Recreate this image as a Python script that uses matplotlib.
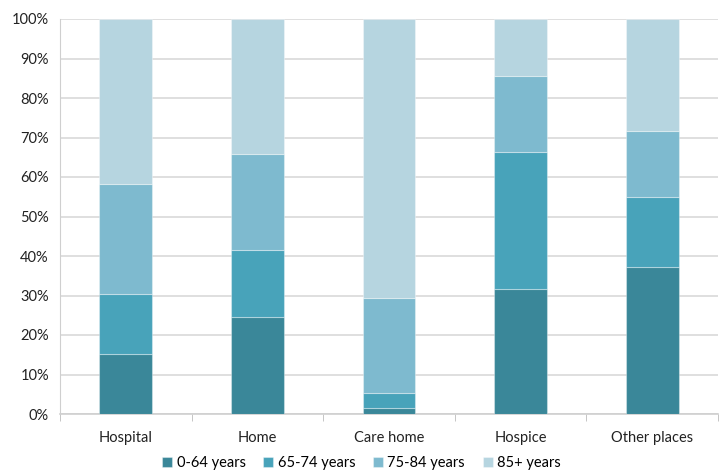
import numpy as np
import matplotlib
matplotlib.use("Agg")
import matplotlib.pyplot as plt
from matplotlib.ticker import PercentFormatter, FixedLocator

plt.rcParams["font.family"] = ["Lato", "DejaVu Sans"]

places = ["Hospital", "Home", "Care home", "Hospice", "Other places"]
age_groups = ["0-64 years", "65-74 years", "75-84 years", "85+ years"]
age_0_64 = [15.2, 24.6, 1.5, 31.6, 37.2]
age_65_74 = [15.2, 16.9, 3.8, 34.7, 17.7]
age_75_84 = [27.8, 24.3, 24.1, 19.3, 16.7]
age_85_plus = [41.8, 34.2, 70.6, 14.4, 28.4]

COLS = ["#3A8799", "#48A3BA", "#7EBACF", "#B6D5E0"]

fig = plt.figure(figsize=(7.23, 4.70), dpi=100)
ax = fig.add_axes([60 / 723, 56 / 470, 658 / 723, 395 / 470])

x = np.arange(len(places))
bottom = np.zeros(len(places))
for vals, col, lab in zip([age_0_64, age_65_74, age_75_84, age_85_plus], COLS, age_groups):
    ax.bar(x, vals, width=0.4, bottom=bottom, color=col, label=lab,
           edgecolor=(1, 1, 1, 0.35), linewidth=0.8, zorder=3)
    bottom += np.array(vals)

ax.set_xlim(-0.5, len(places) - 0.5)
ax.set_ylim(0, 100)
ax.set_yticks(np.arange(0, 101, 10))
ax.yaxis.set_major_formatter(PercentFormatter(decimals=0))
ax.set_xticks(x)
ax.set_xticklabels(places)
ax.xaxis.set_minor_locator(FixedLocator(np.arange(-0.5, len(places), 1.0)))
ax.tick_params(axis="x", which="major", length=0, pad=12, labelsize=10.5, colors="#222222")
ax.tick_params(axis="x", which="minor", length=5, color="#BBBBBB", direction="out")
ax.tick_params(axis="y", length=0, pad=8, labelsize=10.5, colors="#222222")

ax.grid(axis="y", color="#D9D9D9", lw=1.2, zorder=0)
for s in ["top", "right"]:
    ax.spines[s].set_visible(False)
ax.spines["left"].set_color("#CFCFCF")
ax.spines["bottom"].set_color("#CFCFCF")
ax.spines["bottom"].set_linewidth(1.2)

fig.legend(loc="lower center", bbox_to_anchor=(0.5, -0.028), ncol=4, frameon=False,
           fontsize=10.5, handlelength=0.7, handleheight=0.7, handletextpad=0.3,
           columnspacing=1.2)

fig.savefig("out.png", dpi=100)
